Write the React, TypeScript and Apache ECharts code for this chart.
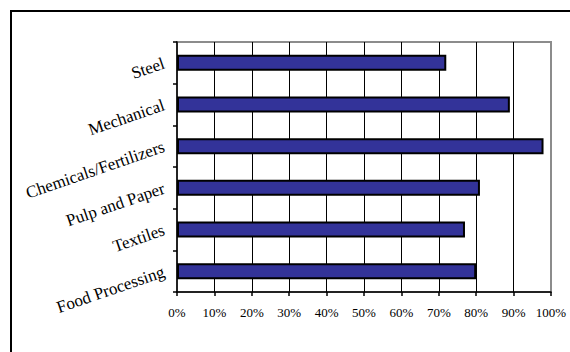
import React, { useEffect, useRef } from "react";
import * as echarts from "echarts";

const categories = ["Steel", "Mechanical", "Chemicals/Fertilizers", "Pulp and Paper", "Textiles", "Food Processing"];
const values = [72, 89, 98, 81, 77, 80];
const xTicks = [0, 10, 20, 30, 40, 50, 60, 70, 80, 90, 100];

export default function App() {
  const ref = useRef<HTMLDivElement>(null);
  useEffect(() => {
    if (!ref.current) return;
    const chart = echarts.init(ref.current, null, { renderer: "svg" });
    const font = "'Liberation Serif', 'Times New Roman', serif";
    chart.setOption({
      animation: false,
      backgroundColor: "#ffffff",
      graphic: [
        {
          type: "rect",
          shape: { x: 11, y: 11, width: 620, height: 420 },
          style: { fill: "none", stroke: "#000", lineWidth: 2 },
          z: 100,
        },
      ],
      grid: {
        left: 177,
        right: 19,
        top: 42,
        bottom: 60,
        show: true,
        borderColor: "#8c8c8c",
        borderWidth: 2,
        backgroundColor: "#ffffff",
      },
      xAxis: {
        type: "value",
        min: xTicks[0],
        max: xTicks[xTicks.length - 1],
        interval: 10,
        axisLine: { show: true, lineStyle: { color: "#000", width: 1.5 } },
        axisTick: { show: true, length: 4, lineStyle: { color: "#000", width: 1.5 } },
        axisLabel: {
          formatter: "{value}%",
          fontFamily: font,
          fontSize: 13,
          color: "#000",
          margin: 14,
        },
        splitLine: { show: true, showMinLine: false, showMaxLine: false, lineStyle: { color: "#000", width: 1 } },
      },
      yAxis: {
        type: "category",
        inverse: true,
        data: categories,
        axisLine: { show: true, lineStyle: { color: "#000", width: 1.5 } },
        axisTick: { show: true, length: 4, lineStyle: { color: "#000", width: 1.5 } },
        axisLabel: {
          rotate: 19,
          fontFamily: font,
          fontSize: 17,
          color: "#000",
          margin: 13,
          padding: [34, 0, 0, 0],
        },
        splitLine: { show: false },
      },
      series: [
        {
          type: "bar",
          data: values,
          barWidth: 16,
          itemStyle: { color: "#333399", borderColor: "#000", borderWidth: 2 },
        },
      ],
    });
    return () => chart.dispose();
  }, []);
  return (
    <div
      ref={ref}
      style={{ position: "fixed", left: 0, top: 0, width: 570, height: 352, background: "#fff" }}
    />
  );
}
